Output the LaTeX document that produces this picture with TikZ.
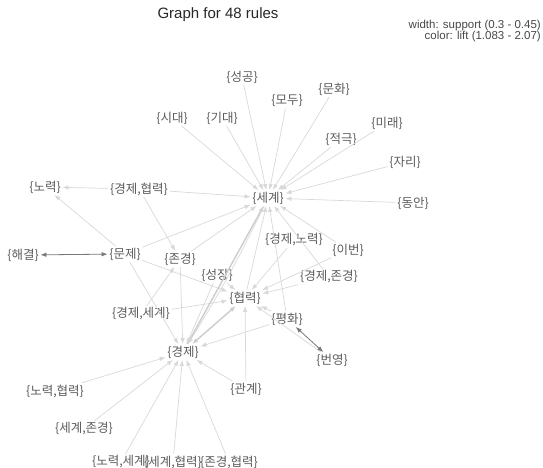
\documentclass[tikz,border=0pt]{standalone}
\usepackage{fontspec}
\setmainfont{Liberation Sans}
\newfontfamily\kr{Noto Sans CJK KR}
\usetikzlibrary{arrows.meta}

\definecolor{edgegray}{RGB}{216,216,216}
\definecolor{widegray}{RGB}{206,206,206}
\definecolor{darkedge}{RGB}{120,120,120}
\definecolor{labelgray}{RGB}{92,92,92}

\tikzset{
  item/.style={font=\kr\fontsize{12.5}{12.5}\selectfont, text=labelgray, inner sep=1.5pt},
  rule/.style={->, draw=edgegray, line width=0.7pt},
  wide/.style={rule, draw=widegray, line width=1.5pt},
  hilift/.style={<->, draw=darkedge, line width=0.8pt},
}

\begin{document}
\begin{tikzpicture}[x=1pt, y=-1pt, >={Latex[length=6pt,width=4.5pt]}]
  \useasboundingbox (0,0) rectangle (543,468);

  \node[font=\fontsize{15}{15}\selectfont, text=black!85] at (218,14.5) (title) {Graph for 48 rules};
  \node[anchor=east, font=\fontsize{11.5}{11.5}\selectfont, text=black!72, inner sep=0pt] at (541,25.5) (leg-width) {width: support (0.3 - 0.45)};
  \node[anchor=east, font=\fontsize{11.5}{11.5}\selectfont, text=black!72, inner sep=0pt] at (541,36.5) (leg-color) {color: lift (1.083 - 2.07)};

  % itemsets
  \node[item] at (242,77) (seonggong) {\{성공\}};
  \node[item] at (287,101) (modu) {\{모두\}};
  \node[item] at (334,89) (munhwa) {\{문화\}};
  \node[item] at (172,118) (sidae) {\{시대\}};
  \node[item] at (222,118) (gidae) {\{기대\}};
  \node[item] at (387,123) (mirae) {\{미래\}};
  \node[item] at (341,139) (jeokgeuk) {\{적극\}};
  \node[item] at (405,162) (jari) {\{자리\}};
  \node[item] at (268,198) (segye) {\{세계\}};
  \node[item] at (413,203) (dongan) {\{동안\}};
  \node[item] at (45,187) (noryeok) {\{노력\}};
  \node[item] at (139,189) (gj-hr) {\{경제,협력\}};
  \node[item] at (294,240) (gj-nr) {\{경제,노력\}};
  \node[item] at (348,250) (ibeon) {\{이번\}};
  \node[item] at (23,255) (haegyeol) {\{해결\}};
  \node[item] at (125,254) (munje) {\{문제\}};
  \node[item] at (180,259) (jongyeong) {\{존경\}};
  \node[item] at (217,275) (seongjang) {\{성장\}};
  \node[item] at (329,277) (gj-jg) {\{경제,존경\}};
  \node[item] at (245,298) (hyeopryeok) {\{협력\}};
  \node[item] at (141,314) (gj-sg) {\{경제,세계\}};
  \node[item] at (287,319) (pyeonghwa) {\{평화\}};
  \node[item] at (183,352) (gyeongje) {\{경제\}};
  \node[item] at (332,360) (beonyeong) {\{번영\}};
  \node[item] at (246,389) (gwangye) {\{관계\}};
  \node[item] at (55,391) (nr-hr) {\{노력,협력\}};
  \node[item] at (84,429) (sg-jg) {\{세계,존경\}};
  \node[item] at (121,462) (nr-sg) {\{노력,세계\}};
  \node[item] at (173,462) (sg-hr) {\{세계,협력\}};
  \node[item] at (229,462) (jg-hr) {\{존경,협력\}};

  % rules
  \foreach \src in {seonggong,modu,munhwa,sidae,gidae,mirae,jeokgeuk,jari,dongan,gj-hr,munje,jongyeong,hyeopryeok,ibeon,gj-jg,pyeonghwa}
    \draw[rule] (\src) -- (segye);
  \foreach \src in {nr-hr,sg-jg,nr-sg,sg-hr,jg-hr,munje,jongyeong,seongjang,pyeonghwa,gwangye}
    \draw[rule] (\src) -- (gyeongje);
  \foreach \src in {munje,gj-sg,seongjang,gj-nr,ibeon,gj-jg,pyeonghwa,beonyeong,gwangye}
    \draw[rule] (\src) -- (hyeopryeok);

  \draw[rule] (gj-hr) -- (noryeok);
  \draw[rule] (munje) -- (noryeok);
  \draw[rule] (gj-hr) -- (jongyeong);
  \draw[rule] (gj-sg) -- (jongyeong);

  \draw[wide] (gyeongje) -- (segye);
  \draw[rule] (segye) to[bend left=3] (gyeongje);
  \draw[wide, <->] (gyeongje) -- (hyeopryeok);

  \draw[hilift] (haegyeol) -- (munje);
  \draw[hilift] (pyeonghwa) -- (beonyeong);
\end{tikzpicture}
\end{document}
